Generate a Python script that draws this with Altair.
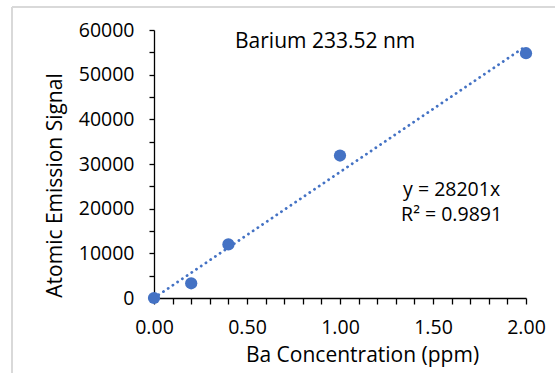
import altair as alt
import pandas as pd

conc = [0.0, 0.2, 0.4, 1.0, 2.0]
signal = [0, 3300, 12000, 31900, 54800]
slope = 28201
trend_x = [0.0, 2.0]
x_ticks = [0.0, 0.1, 0.2, 0.3, 0.4, 0.5, 0.6, 0.7, 0.8, 0.9, 1.0,
           1.1, 1.2, 1.3, 1.4, 1.5, 1.6, 1.7, 1.8, 1.9, 2.0]
y_ticks = [0, 5000, 10000, 15000, 20000, 25000, 30000, 35000, 40000,
           45000, 50000, 55000, 60000]
title_text = "Barium 233.52 nm"
eq_lines = ["y = 28201x", "R² = 0.9891"]
eq_y = [24200, 18600]

FONT = "Open Sans"
BLUE = "#4472C4"

pts = pd.DataFrame({"x": conc, "y": signal})
trend = pd.DataFrame({"x": trend_x, "y": [slope * v for v in trend_x]})
ann = pd.DataFrame({"x": [1.6, 1.6], "y": eq_y, "t": eq_lines})
ttl = pd.DataFrame({"x": [0.92], "y": [57300], "t": [title_text]})

xs = alt.Scale(domain=[0, 2], nice=False, zero=False)
ys = alt.Scale(domain=[0, 60000], nice=False)

x_axis = alt.Axis(values=x_ticks, tickCount=len(x_ticks), title="Ba Concentration (ppm)",
                  labelExpr="abs(round(datum.value*2) - datum.value*2) < 1e-6 ? format(datum.value, '.2f') : ''",
                  labelOverlap=False, labelFlush=False,
                  grid=False, domainColor="black", domainWidth=1.3, tickColor="black",
                  tickWidth=1.3, tickSize=6, labelFontSize=19.5, labelFont=FONT,
                  labelColor="black", labelPadding=14, titleFont=FONT, titleFontSize=21,
                  titleFontWeight="normal", titleColor="black", titleX=208, titleY=57,
                  titleBaseline="middle", titleAlign="center")
y_axis = alt.Axis(values=y_ticks, tickCount=len(y_ticks), title="Atomic Emission Signal",
                  labelExpr="datum.value % 10000 == 0 ? format(datum.value, 'd') : ''",
                  labelOverlap=False, labelFlush=False,
                  grid=False, domainColor="black", domainWidth=1.3, tickColor="black",
                  tickWidth=1.3, tickSize=5, labelFontSize=19.5, labelFont=FONT,
                  labelColor="black", labelPadding=15, titleFont=FONT, titleFontSize=21,
                  titleFontWeight="normal", titleColor="black", titleX=-99, titleY=155,
                  titleBaseline="middle", titleAlign="center", titleAngle=-90)

line = alt.Chart(trend).mark_line(color=BLUE, strokeWidth=2.8, strokeDash=[0.1, 5.6],
                                  strokeCap="round").encode(
    x=alt.X("x:Q", scale=xs, axis=x_axis),
    y=alt.Y("y:Q", scale=ys, axis=y_axis),
)
dots = alt.Chart(pts).mark_circle(color=BLUE, size=150, opacity=1).encode(
    x=alt.X("x:Q", scale=xs),
    y=alt.Y("y:Q", scale=ys),
)
eq = alt.Chart(ann).mark_text(font=FONT, fontSize=19.5, color="black", align="center",
                              baseline="middle").encode(
    x=alt.X("x:Q", scale=xs),
    y=alt.Y("y:Q", scale=ys),
    text="t:N",
)
tt = alt.Chart(ttl).mark_text(font=FONT, fontSize=21, color="black", align="center",
                              baseline="middle").encode(
    x=alt.X("x:Q", scale=xs),
    y=alt.Y("y:Q", scale=ys),
    text="t:N",
)
border = alt.Chart(pts).mark_rule(color="#d9d9d9", strokeWidth=1.5).encode(
    x=alt.value(-142), y=alt.value(-23), x2=alt.value(420)
)
border2 = alt.Chart(pts).mark_rule(color="#d9d9d9", strokeWidth=1.5).encode(
    x=alt.value(-142), y=alt.value(-23), y2=alt.value(360)
)

chart = alt.layer(border, border2, line, dots, eq, tt).properties(
    width=372, height=268,
    autosize=alt.AutoSizeParams(type="none"),
    padding={"left": 154, "top": 30, "right": 29, "bottom": 75},
    background="white",
).configure_view(stroke=None)

chart.save("out.html", embed_options={"renderer": "svg", "actions": False})
